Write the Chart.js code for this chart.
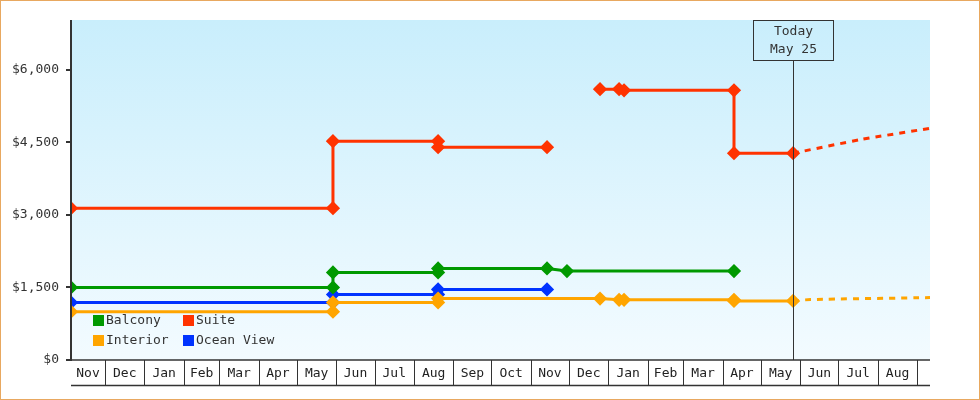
<!DOCTYPE html>
<html><head><meta charset="utf-8">
<script src="https://cdn.jsdelivr.net/npm/chart.js@4"></script>
<style>html,body{margin:0;padding:0;background:#fff}#w{width:978px;height:398px;border:1px solid #e8a860}</style>
</head><body><div id="w"><canvas id="c" width="978" height="398"></canvas></div>
<script>
// x values are days since Nov 1 of the first year
const monthLabels = ['Nov','Dec','Jan','Feb','Mar','Apr','May','Jun','Jul','Aug','Sep','Oct','Nov','Dec','Jan','Feb','Mar','Apr','May','Jun','Jul','Aug',''];
const monthStarts = [0,30,61,92,120,151,181,212,242,273,304,334,365,395,426,457,485,516,546,577,607,638,669];
const xMin = 3.2, xMax = 679, todayX = 571.3;
const yTicks = [0,1500,3000,4500,6000];
const balconyX = [3.2,209.3,209.3,292,292,377.7,393.4,524.8];
const balconyY = [1500,1500,1810,1810,1893,1893,1840,1840];
const suiteX = [3.2,209.3,209.3,292,292,377.7,null,419.4,434.4,438.3,524.8,524.8,571.3];
const suiteY = [3140,3140,4525,4525,4400,4400,null,5600,5600,5575,5575,4275,4275];
const interiorX = [3.2,209.3,209.3,292,292,419.4,434.4,438.3,524.8,524.8,571.3];
const interiorY = [1000,1000,1190,1190,1270,1270,1245,1245,1245,1222,1222];
const oceanX = [3.2,209.3,209.3,292,292,377.7];
const oceanY = [1190,1190,1355,1355,1460,1460];
const suiteFcX = [571.3,625,679], suiteFcY = [4275,4560,4790];
const interiorFcX = [571.3,585,679], interiorFcY = [1222,1250,1290];

const pts=(xs,ys)=>xs.map((x,i)=>({x:x,y:ys[i]}));
const F='"DejaVu Sans Mono", monospace';
const C={b:'#009900',s:'#ff3300',i:'#ffa500',o:'#0033ff'};
function ds(label,xs,ys,col){return {label,data:pts(xs,ys),borderColor:col,backgroundColor:col,borderWidth:3,pointStyle:'rectRot',pointRadius:5,pointHoverRadius:5,spanGaps:false,tension:0};}
function fc(xs,ys,col){return {label:'_fc',data:pts(xs,ys),borderColor:col,borderWidth:3,borderDash:[6,6],pointRadius:0,tension:0.2};}

const bg={id:'bg',beforeDraw(ch){const a=ch.chartArea,ctx=ch.ctx;const g=ctx.createLinearGradient(0,a.top,0,a.bottom);g.addColorStop(0,'#c9eefc');g.addColorStop(1,'#f3fbff');ctx.fillStyle=g;ctx.fillRect(a.left,a.top,a.right-a.left,a.bottom-a.top);}};
const deco={id:'deco',afterDatasetsDraw(ch){const a=ch.chartArea,ctx=ch.ctx,xs=ch.scales.x,ys=ch.scales.y;
 ctx.save();
 // today line
 const tx=Math.round(xs.getPixelForValue(todayX))+0.5;
 ctx.strokeStyle='#333';ctx.lineWidth=1;ctx.beginPath();ctx.moveTo(tx,a.top+41);ctx.lineTo(tx,a.bottom);ctx.stroke();
 ctx.strokeRect(tx-40,a.top+0.5,80,40);
 ctx.fillStyle='#333';ctx.font='13px '+F;ctx.textAlign='center';ctx.textBaseline='middle';
 ctx.fillText('Today',tx,a.top+12);ctx.fillText('May 25',tx,a.top+30);
 // month cells
 ctx.strokeStyle='#333';ctx.lineWidth=1.5;
 ctx.beginPath();ctx.moveTo(a.left,a.bottom+25.5);ctx.lineTo(a.right,a.bottom+25.5);ctx.stroke();
 ctx.beginPath();ctx.moveTo(a.left,a.bottom);ctx.lineTo(a.right,a.bottom);ctx.stroke();
 ctx.lineWidth=1;
 for(let i=0;i<monthStarts.length;i++){
  const s=Math.max(xs.getPixelForValue(monthStarts[i]),a.left);
  const e=i+1<monthStarts.length?Math.min(xs.getPixelForValue(monthStarts[i+1]),a.right):a.right;
  if(e<=a.left)continue;
  if(i+1<monthStarts.length&&e<a.right){ctx.beginPath();ctx.moveTo(Math.round(e)+0.5,a.bottom);ctx.lineTo(Math.round(e)+0.5,a.bottom+25);ctx.stroke();}
  ctx.fillStyle='#222';ctx.fillText(monthLabels[i],(s+e)/2,a.bottom+14);
 }
 // legend
 const L=[['Balcony',C.b,0,0],['Suite',C.s,1,0],['Interior',C.i,0,1],['Ocean View',C.o,1,1]];
 ctx.textAlign='left';
 L.forEach(([t,c,cx,cy])=>{const x=a.left+22+cx*90,y=a.bottom-40+cy*20;ctx.fillStyle=c;ctx.fillRect(x,y-5,11,11);ctx.fillStyle='#333';ctx.fillText(t,x+13,y+1);});
 // y axis line
 ctx.strokeStyle='#333';ctx.lineWidth=2;ctx.beginPath();ctx.moveTo(a.left,a.top);ctx.lineTo(a.left,a.bottom+1);ctx.stroke();
 ctx.restore();}};

new Chart(document.getElementById('c'),{type:'line',
 data:{datasets:[ds('Balcony',balconyX,balconyY,C.b),ds('Suite',suiteX,suiteY,C.s),ds('Interior',interiorX,interiorY,C.i),ds('Ocean View',oceanX,oceanY,C.o),fc(suiteFcX,suiteFcY,C.s),fc(interiorFcX,interiorFcY,C.i)]},
 options:{responsive:false,animation:false,devicePixelRatio:1,
  layout:{padding:{top:19,right:49,left:0,bottom:0}},
  plugins:{legend:{display:false},tooltip:{enabled:false}},
  scales:{
   x:{type:'linear',min:xMin,max:xMax,grid:{display:false},border:{display:false},ticks:{display:false},afterFit(s){s.height=39;}},
   y:{min:0,max:7030,afterBuildTicks(s){s.ticks=yTicks.map(v=>({value:v}));},afterFit(s){s.width=70;},
      grid:{display:false,drawOnChartArea:false},border:{display:false},
      ticks:{color:'#333',font:{family:F,size:13},padding:4,callback:v=>'$'+v.toLocaleString('en-US')}}
  }},
 plugins:[bg,deco,{id:'tk',afterDraw(ch){const ctx=ch.ctx,y=ch.scales.y,a=ch.chartArea;ctx.save();ctx.strokeStyle='#333';ctx.lineWidth=2;yTicks.forEach(v=>{const p=Math.round(y.getPixelForValue(v));ctx.beginPath();ctx.moveTo(a.left-5,p);ctx.lineTo(a.left,p);ctx.stroke();});ctx.restore();}}]
});
</script></body></html>
